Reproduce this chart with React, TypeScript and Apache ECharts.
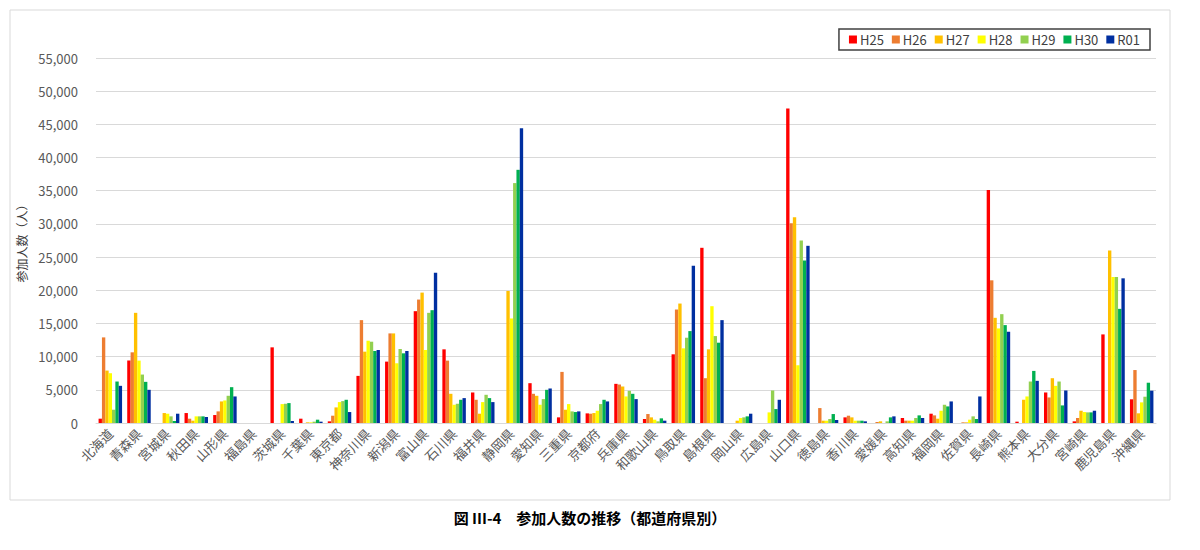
import React, { useEffect, useRef } from "react";
import * as echarts from "echarts";

const categories = [
  "北海道", "青森県", "宮城県", "秋田県", "山形県", "福島県", "茨城県", "千葉県", "東京都", "神奈川県",
  "新潟県", "富山県", "石川県", "福井県", "静岡県", "愛知県", "三重県", "京都府", "兵庫県", "和歌山県",
  "鳥取県", "島根県", "岡山県", "広島県", "山口県", "徳島県", "香川県", "愛媛県", "高知県", "福岡県",
  "佐賀県", "長崎県", "熊本県", "大分県", "宮崎県", "鹿児島県", "沖縄県",
];

const seriesNames = ["H25", "H26", "H27", "H28", "H29", "H30", "R01"];
const seriesColors = ["#FF0000", "#ED7D31", "#FFC000", "#FFFF00", "#92D050", "#00B050", "#002FA0"];

const h25 = [650, 9400, 0, 1500, 1200, 0, 11400, 650, 250, 7100, 9250, 16850, 11100, 4600, 0, 6000, 850, 1450, 5900, 600, 10350, 26400, 0, 0, 47400, 0, 850, 0, 750, 1400, 0, 35100, 200, 4600, 250, 13350, 3570];
const h26 = [12900, 10650, 0, 650, 1750, 0, 0, 0, 1100, 15500, 13500, 18600, 9400, 3500, 0, 4400, 7700, 1400, 5800, 1350, 17100, 6750, 0, 0, 30100, 2250, 1100, 150, 350, 1150, 100, 21500, 0, 3850, 750, 0, 7980];
const h27 = [7900, 16600, 1500, 350, 3250, 0, 0, 100, 2350, 10750, 13500, 19650, 4400, 1400, 19900, 4100, 2000, 1500, 5500, 850, 18000, 11100, 350, 0, 31000, 350, 850, 250, 350, 650, 100, 15850, 3500, 6750, 1850, 26000, 1460];
const h28 = [7500, 9400, 1400, 1000, 3400, 0, 2850, 100, 3150, 12400, 9000, 11000, 2750, 3150, 15750, 2750, 2850, 1850, 4000, 500, 11250, 17600, 750, 1600, 8700, 350, 350, 0, 350, 1850, 500, 14250, 4000, 5600, 1650, 22000, 3110];
const h29 = [2000, 7300, 1000, 1000, 4100, 0, 2900, 200, 3300, 12250, 11150, 16600, 2900, 4250, 36150, 3600, 1750, 2850, 4850, 250, 12850, 13100, 850, 4900, 27500, 600, 350, 250, 750, 2750, 1000, 16400, 6250, 6250, 1600, 22000, 3960];
const h30 = [6250, 6200, 300, 1000, 5400, 0, 3000, 500, 3500, 10850, 10500, 17000, 3500, 3750, 38150, 5000, 1650, 3500, 4400, 700, 13850, 12100, 1000, 2100, 24500, 1350, 350, 850, 1150, 2500, 600, 14750, 7850, 2650, 1600, 17200, 6070];
const r01 = [5600, 5000, 1400, 900, 4000, 0, 300, 200, 1650, 11000, 10850, 22650, 3750, 3150, 44400, 5200, 1750, 3250, 3600, 350, 23700, 15500, 1400, 3500, 26700, 450, 250, 1000, 750, 3250, 4000, 13750, 6350, 4900, 1850, 21800, 4870];

const seriesValues = [h25, h26, h27, h28, h29, h30, r01];

const yTicks = { min: 0, max: 55000, interval: 5000 };

const FONT = "'Noto Sans CJK JP', 'Noto Sans', sans-serif";

export default function App() {
  const ref = useRef<HTMLDivElement>(null);

  useEffect(() => {
    if (!ref.current) return;
    const chart = echarts.init(ref.current, undefined, { renderer: "svg" });
    chart.setOption({
      animation: false,
      backgroundColor: "#ffffff",
      textStyle: { fontFamily: FONT },
      grid: { left: 96, right: 44, top: 58, bottom: 127 },
      legend: {
        right: 50,
        top: 29,
        itemWidth: 8,
        itemHeight: 8,
        itemGap: 8,
        icon: "rect",
        padding: [4, 10, 4, 10],
        borderColor: "#404040",
        borderWidth: 1.5,
        textStyle: { fontSize: 13, color: "#404040", fontFamily: FONT, padding: [0, 0, 0, -2] },
        data: seriesNames,
      },
      xAxis: {
        type: "category",
        data: categories,
        axisLine: { show: true, lineStyle: { color: "#d9d9d9" } },
        axisTick: { show: false },
        axisLabel: {
          interval: 0,
          rotate: 45,
          fontSize: 13,
          color: "#595959",
          margin: 8,
          fontFamily: FONT,
        },
      },
      yAxis: {
        type: "value",
        min: yTicks.min,
        max: yTicks.max,
        interval: yTicks.interval,
        name: "参加人数（人）",
        nameLocation: "middle",
        nameRotate: 90,
        nameGap: 68,
        nameTextStyle: { fontSize: 12, color: "#404040", fontFamily: FONT },
        axisLine: { show: false },
        axisTick: { show: false },
        splitLine: { lineStyle: { color: "#d9d9d9", width: 1 } },
        axisLabel: {
          fontSize: 13,
          color: "#595959",
          margin: 18,
          fontFamily: FONT,
          formatter: (v: number) => v.toLocaleString("en-US"),
        },
      },
      series: seriesNames.map((name, i) => ({
        name,
        type: "bar",
        data: seriesValues[i],
        itemStyle: { color: seriesColors[i] },
        barGap: "0%",
        barCategoryGap: "18%",
      })),
      graphic: [
        {
          type: "rect",
          shape: { x: 10, y: 10, width: 1160, height: 490 },
          style: { fill: "none", stroke: "#d9d9d9", lineWidth: 1 },
          silent: true,
          z: -10,
        },
        {
          type: "text",
          x: 590,
          y: 517,
          style: {
            text: "図 III-4　参加人数の推移（都道府県別）",
            fontSize: 15,
            fontWeight: "bold",
            fill: "#000000",
            fontFamily: FONT,
            textAlign: "center",
            textVerticalAlign: "middle",
          },
        },
      ],
    });
    return () => chart.dispose();
  }, []);

  return (
    <div
      ref={ref}
      style={{ position: "fixed", left: 0, top: 0, width: 1200, height: 550 }}
    />
  );
}
